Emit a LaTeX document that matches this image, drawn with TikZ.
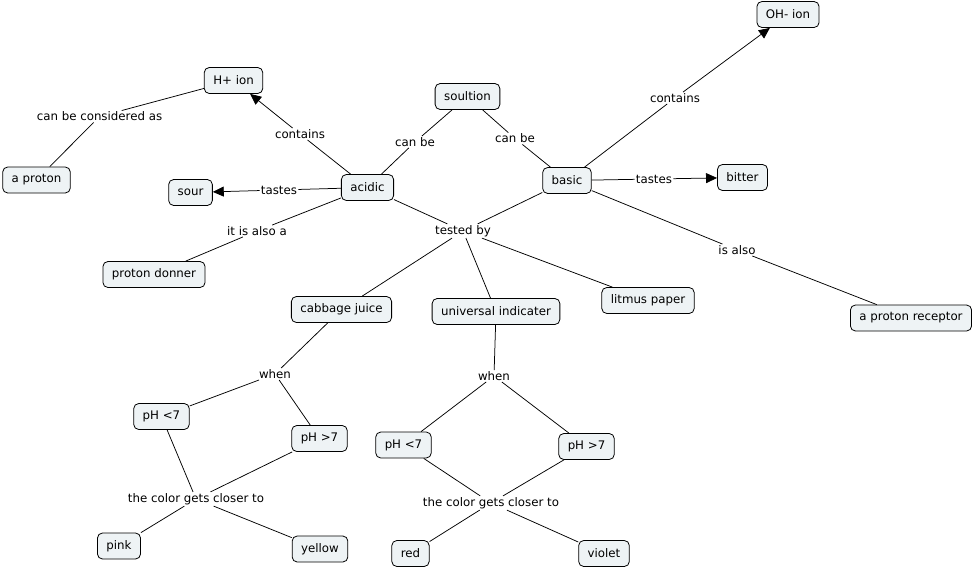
\documentclass[tikz,border=0pt]{standalone}
\usepackage{fontspec}
\setmainfont{DejaVu Sans}
\usetikzlibrary{arrows.meta}
\definecolor{boxfill}{RGB}{238,243,245}
\begin{document}
\begin{tikzpicture}[x=1pt,y=-1pt,
  concept/.style={draw=black, line width=0.8pt, fill=boxfill, rounded corners=5pt,
    inner xsep=9pt, inner ysep=0pt, minimum height=26pt, font=\fontsize{11.8}{14}\selectfont},
  linklabel/.style={inner sep=1.2pt, font=\fontsize{11.8}{14}\selectfont},
  conn/.style={line width=0.75pt},
  arr/.style={conn, -{Triangle[length=11pt,width=10pt]}}
]
\useasboundingbox (0,0) rectangle (976,568);
% concepts
\node[concept] (oh) at (788,14.5) {OH- ion};
\node[concept] (hplus) at (233.5,80.5) {H+ ion};
\node[concept] (sol) at (467.5,96.5) {soultion};
\node[concept] (aproton) at (36.5,180) {a proton};
\node[concept] (sour) at (190.5,192.5) {sour};
\node[concept] (acidic) at (367.5,187.5) {acidic};
\node[concept] (basic) at (567,180.5) {basic};
\node[concept] (bitter) at (742.5,177.5) {bitter};
\node[concept] (donner) at (154,274.5) {proton donner};
\node[concept] (cabbage) at (341.5,309.5) {cabbage juice};
\node[concept] (univ) at (496,311.5) {universal indicater};
\node[concept] (litmus) at (648,300.5) {litmus paper};
\node[concept] (receptor) at (911,318) {a proton receptor};
\node[concept] (phlA) at (161.5,416.5) {pH <7};
\node[concept] (phgA) at (319.5,438.5) {pH >7};
\node[concept] (phlB) at (403.5,445) {pH <7};
\node[concept] (phgB) at (586.5,446.5) {pH >7};
\node[concept] (pink) at (119,546) {pink};
\node[concept] (yellow) at (320,549) {yellow};
\node[concept] (red) at (410.5,553.5) {red};
\node[concept] (violet) at (604,553.5) {violet};
% link labels
\node[linklabel] (lconsid) at (99.5,116.5) {can be considered as};
\node[linklabel] (lcontA) at (300,134) {contains};
\node[linklabel] (lcanA) at (415,142) {can be};
\node[linklabel] (lcanB) at (515,138.5) {can be};
\node[linklabel] (lcontB) at (675,98) {contains};
\node[linklabel] (ltasteA) at (279,190) {tastes};
\node[linklabel] (ltasteB) at (654,179) {tastes};
\node[linklabel] (lalsoA) at (257,231) {it is also a};
\node[linklabel] (ltested) at (463,231) {tested by};
\node[linklabel] (lalsoB) at (737,250) {is also};
\node[linklabel] (lwhenA) at (275,374) {when};
\node[linklabel] (lwhenB) at (494,376) {when};
\node[linklabel] (lcolA) at (196,499) {the color gets closer to};
\node[linklabel] (lcolB) at (491,503) {the color gets closer to};
% connectors
\draw[conn] (hplus) -- (lconsid);
\draw[conn] (lconsid) -- (aproton);
\draw[conn] (acidic) -- (lcontA);
\draw[arr] (lcontA) -- (hplus);
\draw[conn] (sol) -- (lcanA);
\draw[conn] (lcanA) -- (acidic);
\draw[conn] (sol) -- (lcanB);
\draw[conn] (lcanB) -- (basic);
\draw[conn] (acidic) -- (ltasteA);
\draw[arr] (ltasteA) -- (sour);
\draw[conn] (acidic) -- (lalsoA);
\draw[conn] (lalsoA) -- (donner);
\draw[conn] (acidic) -- (ltested);
\draw[conn] (basic) -- (ltested);
\draw[conn] (ltested) -- (cabbage);
\draw[conn] (ltested) -- (univ);
\draw[conn] (ltested) -- (litmus);
\draw[conn] (basic) -- (lcontB);
\draw[arr] (lcontB) -- (oh);
\draw[conn] (basic) -- (ltasteB);
\draw[arr] (ltasteB) -- (bitter);
\draw[conn] (basic) -- (lalsoB);
\draw[conn] (lalsoB) -- (receptor);
\draw[conn] (cabbage) -- (lwhenA);
\draw[conn] (lwhenA) -- (phlA);
\draw[conn] (lwhenA) -- (phgA);
\draw[conn] (phlA) -- (lcolA);
\draw[conn] (phgA) -- (lcolA);
\draw[conn] (lcolA) -- (pink);
\draw[conn] (lcolA) -- (yellow);
\draw[conn] (univ) -- (lwhenB);
\draw[conn] (lwhenB) -- (phlB);
\draw[conn] (lwhenB) -- (phgB);
\draw[conn] (phlB) -- (lcolB);
\draw[conn] (phgB) -- (lcolB);
\draw[conn] (lcolB) -- (red);
\draw[conn] (lcolB) -- (violet);
\end{tikzpicture}
\end{document}
